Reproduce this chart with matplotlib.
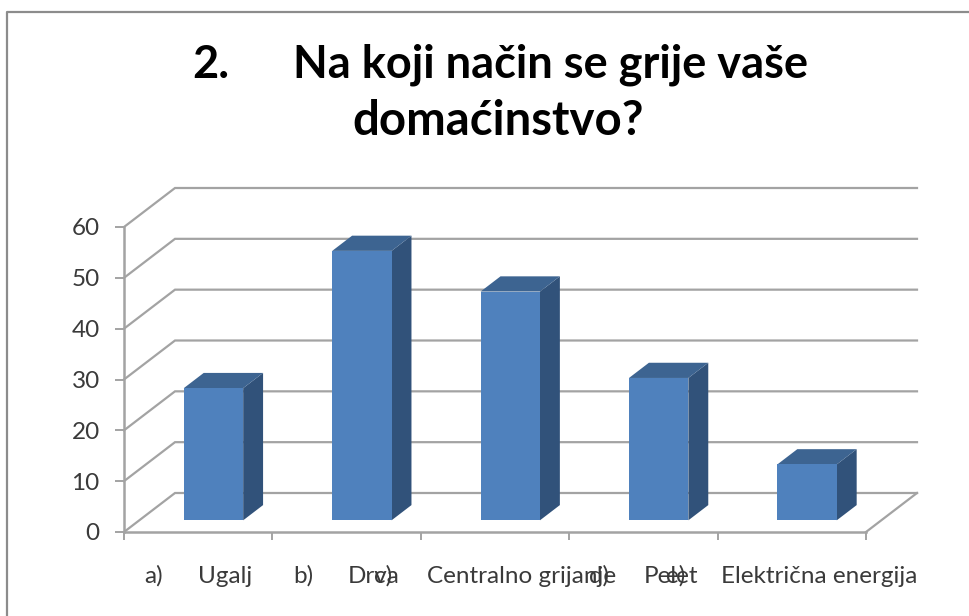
import numpy as np
import matplotlib
matplotlib.use("Agg")
import matplotlib.pyplot as plt
from matplotlib.patches import Polygon

plt.rcParams["font.family"] = ["Lato", "DejaVu Sans"]

# values
markers = ["a)", "b)", "c)", "d)", "e)"]
categories = ["Ugalj", "Drva", "Centralno grijanje", "Pelet", "Električna energija"]
values = [26, 53, 45, 28, 11]
y_ticks = [0, 10, 20, 30, 40, 50, 60]

W, H = 970, 616
GRID = "#a3a3a3"
FRONT = "#4f81bd"
SIDE = "#31527a"
TOP = "#3d6491"
TEXT = "#3a3a3a"

# depth of the fake 3d box in data units
DEPTH_X = 51 / 148.4
DEPTH_Y = 39 / (305 / 60)
BAR_W = 0.40
BAR_FROM = 0.30
BAR_TO = 0.69

fig = plt.figure(figsize=(W / 100, H / 100), dpi=100)
ax = fig.add_axes([124 / W, (H - 532) / H, 742 / W, 305 / H])
ax.set_xlim(0, 5)
ax.set_ylim(0, 60)


def project(x, y, d):
    return x + d * DEPTH_X, y + d * DEPTH_Y


# back wall and left wall grid
for v in y_ticks:
    pts = [project(0, v, 0), project(0, v, 1), project(5, v, 1)]
    ax.plot(*zip(*pts), color=GRID, lw=1.6, clip_on=False, zorder=1, solid_joinstyle="miter")

# floor, right edge
pts = [project(5, 0, 0), project(5, 0, 1)]
ax.plot(*zip(*pts), color=GRID, lw=1.6, clip_on=False, zorder=1)

# bars
centers = np.arange(len(values)) + 0.5
ax.bar(centers + BAR_FROM * DEPTH_X, values, width=BAR_W, bottom=BAR_FROM * DEPTH_Y,
       color=FRONT, clip_on=False, zorder=3)
for c, v in zip(centers, values):
    l = c - BAR_W / 2
    r = c + BAR_W / 2
    side = [project(r, 0, BAR_FROM), project(r, 0, BAR_TO), project(r, v, BAR_TO), project(r, v, BAR_FROM)]
    top = [project(l, v, BAR_FROM), project(l, v, BAR_TO), project(r, v, BAR_TO), project(r, v, BAR_FROM)]
    ax.add_patch(Polygon(side, fc=SIDE, ec="none", clip_on=False, zorder=2))
    ax.add_patch(Polygon(top, fc=TOP, ec="none", clip_on=False, zorder=2))

# axes
for s in ["top", "right"]:
    ax.spines[s].set_visible(False)
for s in ["left", "bottom"]:
    ax.spines[s].set_color(GRID)
    ax.spines[s].set_linewidth(1.8)
ax.set_yticks(y_ticks)
ax.set_xticks(np.arange(len(values) + 1))
ax.set_xticklabels([])
ax.tick_params(axis="y", length=6.5, width=1.4, color=GRID, labelcolor=TEXT, labelsize=17.5, pad=11)
ax.tick_params(axis="x", length=6, width=1.4, color=GRID)
ax.patch.set_alpha(0)

# category labels: marker + tab + name, the whole thing centred on the slot,
# so long ones run into their neighbours just like the original
fig.canvas.draw()
renderer = fig.canvas.get_renderer()
gap = 35
for c, m, name in zip(centers, markers, categories):
    t_m = ax.annotate(m, xy=(c, 0), xytext=(0, 0), textcoords="offset pixels", ha="left", va="baseline",
                      fontsize=17.5, color=TEXT, annotation_clip=False)
    t_n = ax.annotate(name, xy=(c, 0), xytext=(0, 0), textcoords="offset pixels", ha="left", va="baseline",
                      fontsize=17.5, color=TEXT, annotation_clip=False)
    w_m = t_m.get_window_extent(renderer).width
    w_n = t_n.get_window_extent(renderer).width
    start = -(w_m + gap + w_n) / 2
    t_m.set_position((start, -51))
    t_n.set_position((start + w_m + gap, -51))

# title
title_style = dict(va="baseline", fontweight="bold", color="black")
fig.text(192 / W, 1 - 78 / H, "2.", ha="left", fontsize=32.5, **title_style)
fig.text(293 / W, 1 - 78 / H, "Na koji način se grije vaše", ha="left", fontsize=32.5, **title_style)
fig.text(498 / W, 1 - 135 / H, "domaćinstvo?", ha="center", fontsize=34, **title_style)

# chart frame, only top and left fall inside the crop
fig.add_artist(plt.Line2D([7.5 / W, 7.5 / W, 1], [0, 1 - 11.5 / H, 1 - 11.5 / H], color="#8c8c8c", lw=1.6))

fig.savefig("out.png", dpi=100)
